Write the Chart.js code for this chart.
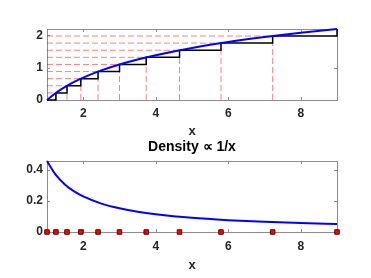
<!DOCTYPE html>
<html><head><meta charset="utf-8">
<script src="https://cdn.jsdelivr.net/npm/chart.js@4/dist/chart.umd.min.js"></script>
<style>
html,body{margin:0;padding:0;background:#fff;}
#wrap{position:relative;width:371px;height:278px;overflow:hidden;}
canvas{position:absolute;left:0;}
</style></head><body>
<div id="wrap">
<canvas id="cTop" width="371" height="140" style="top:0"></canvas>
<canvas id="cBot" width="371" height="138" style="top:140px"></canvas>
</div>
<script>
// sample points (x) and their CDF levels
const sampleX   = [1, 1.246, 1.552, 1.933, 2.408, 3, 3.737, 4.656, 5.8, 7.225, 9];
const sampleCdf = [0, 0.22, 0.44, 0.66, 0.88, 1.10, 1.32, 1.54, 1.76, 1.98, 2.197];
// smooth curves
const curveX   = [1, 1.25, 1.5, 1.75, 2, 2.5, 3, 3.5, 4, 5, 6, 7, 8, 9];
const cdfY     = [0, 0.223, 0.405, 0.560, 0.693, 0.916, 1.099, 1.253, 1.386, 1.609, 1.792, 1.946, 2.079, 2.197];
const densityY = [0.455, 0.364, 0.303, 0.260, 0.228, 0.182, 0.152, 0.130, 0.114, 0.091, 0.076, 0.065, 0.057, 0.051];
// ticks
const xTicks    = [2, 4, 6, 8];
const topYTicks = [0, 1, 2];
const botYTicks = [0, 0.2, 0.4];
const topTitle = 'Density \u221D 1/x';
const xLabel = 'x';

const FONT = "'Liberation Sans', Arial, Helvetica, sans-serif";
const tickFont = {family: FONT, size: 12, weight: 'bold'};
const labFont = {family: FONT, size: 13, weight: 'bold'};
const TXT = '#262626';

const boxPlugin = {
  id: 'box',
  beforeDatasetsDraw(chart) {
    const {ctx, chartArea: a, scales: {x, y}} = chart;
    ctx.save();
    ctx.strokeStyle = '#8c8c8c';
    ctx.lineWidth = 1;
    ctx.strokeRect(a.left + 0.5, a.top + 0.5, a.right - a.left, a.bottom - a.top);
    ctx.beginPath();
    x.ticks.forEach(t => {
      const p = Math.round(x.getPixelForValue(t.value)) + 0.5;
      ctx.moveTo(p, a.bottom); ctx.lineTo(p, a.bottom - 3);
      ctx.moveTo(p, a.top); ctx.lineTo(p, a.top + 3);
    });
    y.ticks.forEach(t => {
      const p = Math.round(y.getPixelForValue(t.value)) + 0.5;
      ctx.moveTo(a.left, p); ctx.lineTo(a.left + 3, p);
      ctx.moveTo(a.right, p); ctx.lineTo(a.right - 3, p);
    });
    ctx.stroke();
    ctx.restore();
  }
};

function scalesFor(yMin, yMax, yTicks, xH, xPad, xTitlePad) {
  return {
    x: {
      type: 'linear', min: 1, max: 9,
      afterBuildTicks: s => { s.ticks = xTicks.map(v => ({value: v})); },
      afterFit: s => { s.height = xH; },
      grid: {display: false, drawTicks: false, tickLength: 0},
      border: {display: false},
      ticks: {padding: xPad, font: tickFont, color: TXT, maxRotation: 0, autoSkip: false},
      title: {display: true, text: xLabel, font: labFont, color: TXT, padding: {top: 0, bottom: xTitlePad}}
    },
    y: {
      type: 'linear', min: yMin, max: yMax,
      afterBuildTicks: s => { s.ticks = yTicks.map(v => ({value: v})); },
      afterFit: s => { s.width = 47; },
      grid: {display: false, drawTicks: false, tickLength: 0},
      border: {display: false},
      ticks: {padding: 4, font: tickFont, color: TXT, autoSkip: false}
    }
  };
}

// red dashed guide segments built from the sample arrays
const guides = [];
for (let k = 1; k < sampleX.length - 1; k++) {
  guides.push({x: 1, y: sampleCdf[k]}, {x: sampleX[k], y: sampleCdf[k]}, {x: sampleX[k], y: null});
  guides.push({x: sampleX[k], y: 0}, {x: sampleX[k], y: sampleCdf[k]}, {x: sampleX[k], y: null});
}

new Chart(document.getElementById('cTop'), {
  type: 'line',
  data: {
    datasets: [
      {data: curveX.map((v, i) => ({x: v, y: cdfY[i]})), borderColor: '#0000ff', borderWidth: 2,
       pointRadius: 0, cubicInterpolationMode: 'monotone', fill: false, clip: false},
      {data: sampleX.map((v, i) => ({x: v, y: sampleCdf[i]})), borderColor: '#000000', borderWidth: 1.5,
       pointRadius: 0, stepped: 'before', fill: false, clip: false},
      {data: guides, borderColor: 'rgba(255,0,0,0.5)', borderWidth: 1, borderDash: [6, 3],
       pointRadius: 0, spanGaps: false, fill: false}
    ]
  },
  options: {
    responsive: false, animation: false, parsing: true,
    layout: {padding: {left: 0, right: 34, top: 29, bottom: 0}},
    plugins: {legend: {display: false}, tooltip: {enabled: false}, title: {display: false}},
    scales: scalesFor(0, 2.197, topYTicks, 40, 6, 1)
  },
  plugins: [boxPlugin]
});

const titlePlugin = {
  id: 'ttl',
  afterDraw(chart) {
    const {ctx, chartArea: a} = chart;
    ctx.save();
    ctx.font = "bold 14px " + FONT;
    ctx.fillStyle = '#000';
    ctx.textAlign = 'center';
    ctx.textBaseline = 'middle';
    ctx.fillText(topTitle, (a.left + a.right) / 2, 7.5);
    ctx.restore();
  }
};

new Chart(document.getElementById('cBot'), {
  type: 'line',
  data: {
    datasets: [
      {data: sampleX.map(v => ({x: v, y: 0})), showLine: false, pointStyle: 'rect', pointRadius: 3.2,
       backgroundColor: '#ff0000', borderColor: '#600000', borderWidth: 1, clip: false},
      {data: curveX.map((v, i) => ({x: v, y: densityY[i]})), borderColor: '#0000ff', borderWidth: 2,
       pointRadius: 0, cubicInterpolationMode: 'monotone', fill: false, clip: false}
    ]
  },
  options: {
    responsive: false, animation: false,
    layout: {padding: {left: 0, right: 34, top: 21, bottom: 0}},
    plugins: {legend: {display: false}, tooltip: {enabled: false}},
    scales: scalesFor(0, 0.455, botYTicks, 46, 7, 5)
  },
  plugins: [boxPlugin, titlePlugin]
});
</script>
</body></html>
